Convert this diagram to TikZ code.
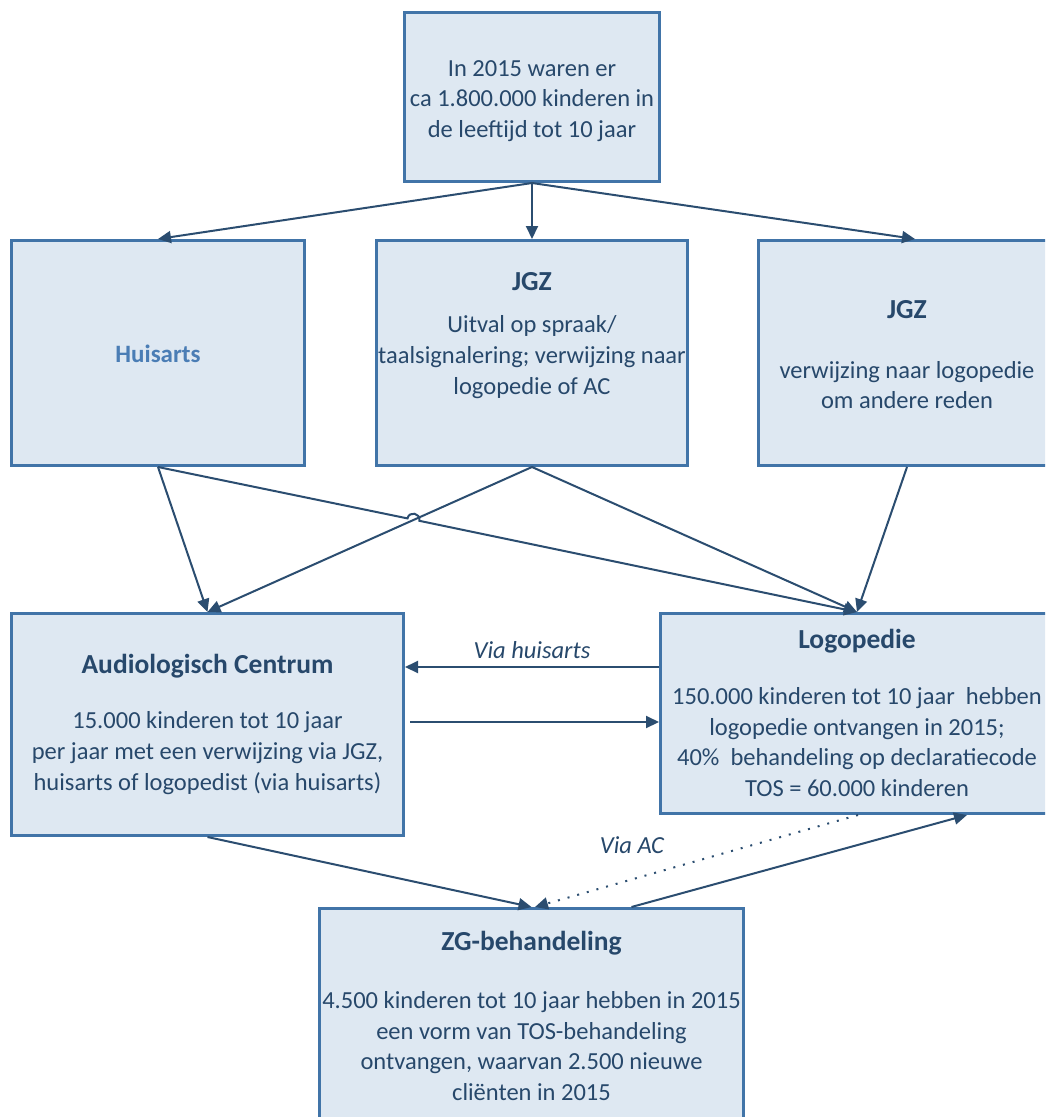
\documentclass[tikz,border=0pt]{standalone}
\usepackage{fontspec}
\setmainfont{Carlito}
\usetikzlibrary{arrows.meta}
\definecolor{boxfill}{HTML}{DEE8F2}
\definecolor{boxline}{HTML}{4174A8}
\definecolor{txt}{HTML}{27486B}
\definecolor{huiscol}{HTML}{4A7DB5}
\definecolor{arr}{HTML}{2B4D70}
\begin{document}
\begin{tikzpicture}[x=1pt,y=-1pt,
  box/.style={draw=boxline, fill=boxfill, line width=2.6pt, rectangle, inner sep=0pt},
  body/.style={text=txt, align=center, font=\fontsize{24.5}{30.8}\selectfont, inner sep=0pt},
  ttl/.style={text=txt, font=\bfseries\fontsize{27.5}{33}\selectfont, inner sep=0pt},
  lbl/.style={text=txt, font=\itshape\fontsize{24.5}{30}\selectfont, inner sep=0pt},
  conn/.style={draw=arr, line width=2pt, -{Triangle[length=13pt,width=12pt]}},
  dotconn/.style={conn, dash pattern=on 2pt off 8pt}]
\clip (0,0) rectangle (1045,1117);
\fill[white] (0,0) rectangle (1045,1117);
% boxes
\node[box, minimum width=255.4pt, minimum height=169.4pt] (top) at (532,97) {};
\node[box, minimum width=293.4pt, minimum height=225.4pt] (huis) at (158,353) {};
\node[box, minimum width=311.4pt, minimum height=225.4pt] (jgz1) at (532,353) {};
\node[box, minimum width=297.4pt, minimum height=225.4pt] (jgz2) at (907,353) {};
\node[box, minimum width=392.4pt, minimum height=222.4pt] (audio) at (207.5,724.5) {};
\node[box, minimum width=393.4pt, minimum height=200.4pt] (logo) at (857,713.5) {};
\node[box, minimum width=424.4pt, minimum height=215.4pt] (zg) at (531.5,1016) {};
% texts
\node[body] (topt) at (532,101) {In 2015 waren er\\ca 1.800.000 kinderen in\\de leeftijd tot 10 jaar};
\node[ttl, text=huiscol, font=\bfseries\fontsize{25}{30}\selectfont] (huist) at (158,354) {Huisarts};
\node[ttl] (jgz1t) at (532,282) {JGZ};
\node[body] (jgz1b) at (532,357) {Uitval op spraak/\\taalsignalering; verwijzing naar\\logopedie of AC};
\node[ttl] (jgz2t) at (907,310) {JGZ};
\node[body] (jgz2b) at (907,385) {verwijzing naar logopedie\\om andere reden};
\node[ttl] (audiot) at (207.5,666) {Audiologisch Centrum};
\node[body] (audiob) at (207.5,753) {15.000 kinderen tot 10 jaar\\per jaar met een verwijzing via JGZ,\\huisarts of logopedist (via huisarts)};
\node[ttl] (logot) at (857,641) {Logopedie};
\node[body] (logob) at (857,742) {150.000 kinderen tot 10 jaar\ \ hebben\\logopedie ontvangen in 2015;\\40\%\ \ behandeling op declaratiecode\\TOS = 60.000 kinderen};
\node[ttl] (zgt) at (531.5,943) {ZG-behandeling};
\node[body] (zgb) at (531.5,1046) {4.500 kinderen tot 10 jaar hebben in 2015\\een vorm van TOS-behandeling\\ontvangen, waarvan 2.500 nieuwe\\cliënten in 2015};
% connectors
\draw[conn] (top.south) -- (huis.north);
\draw[conn] (top.south) -- (jgz1.north);
\draw[conn] (top.south) -- ([xshift=8pt]jgz2.north);
\draw[conn] (huis.south) -- (audio.north);
\coordinate (hopA) at (407.5,518.4);
\coordinate (hopB) at (419.3,520.8);
\coordinate (hopC1) at (409.2,510.6);
\coordinate (hopC2) at (420.9,513.0);
\draw[conn] (huis.south) -- (hopA) .. controls (hopC1) and (hopC2) .. (hopB) -- (logo.north);
\draw[conn] (jgz1.south) -- (audio.north);
\draw[conn] (jgz1.south) -- (logo.north);
\draw[conn] (jgz2.south) -- (logo.north);
\coordinate (vh) at ([yshift=46.5pt]logo.west);
\draw[conn] (vh) -- (vh -| audio.east);
\node[lbl] (viahuis) at (532,650) {Via huisarts};
\coordinate (va) at ([xshift=5pt,yshift=2.5pt]audio.east);
\draw[conn] (va) -- (va -| logo.west);
\draw[conn] (audio.south) -- (zg.north);
\draw[conn] ([xshift=100pt]zg.north) -- ([xshift=110pt]logo.south);
\draw[dotconn] ([xshift=1pt]logo.south) -- ([xshift=3.5pt]zg.north);
\node[lbl] (viaac) at (632,845) {Via AC};
\end{tikzpicture}
\end{document}
